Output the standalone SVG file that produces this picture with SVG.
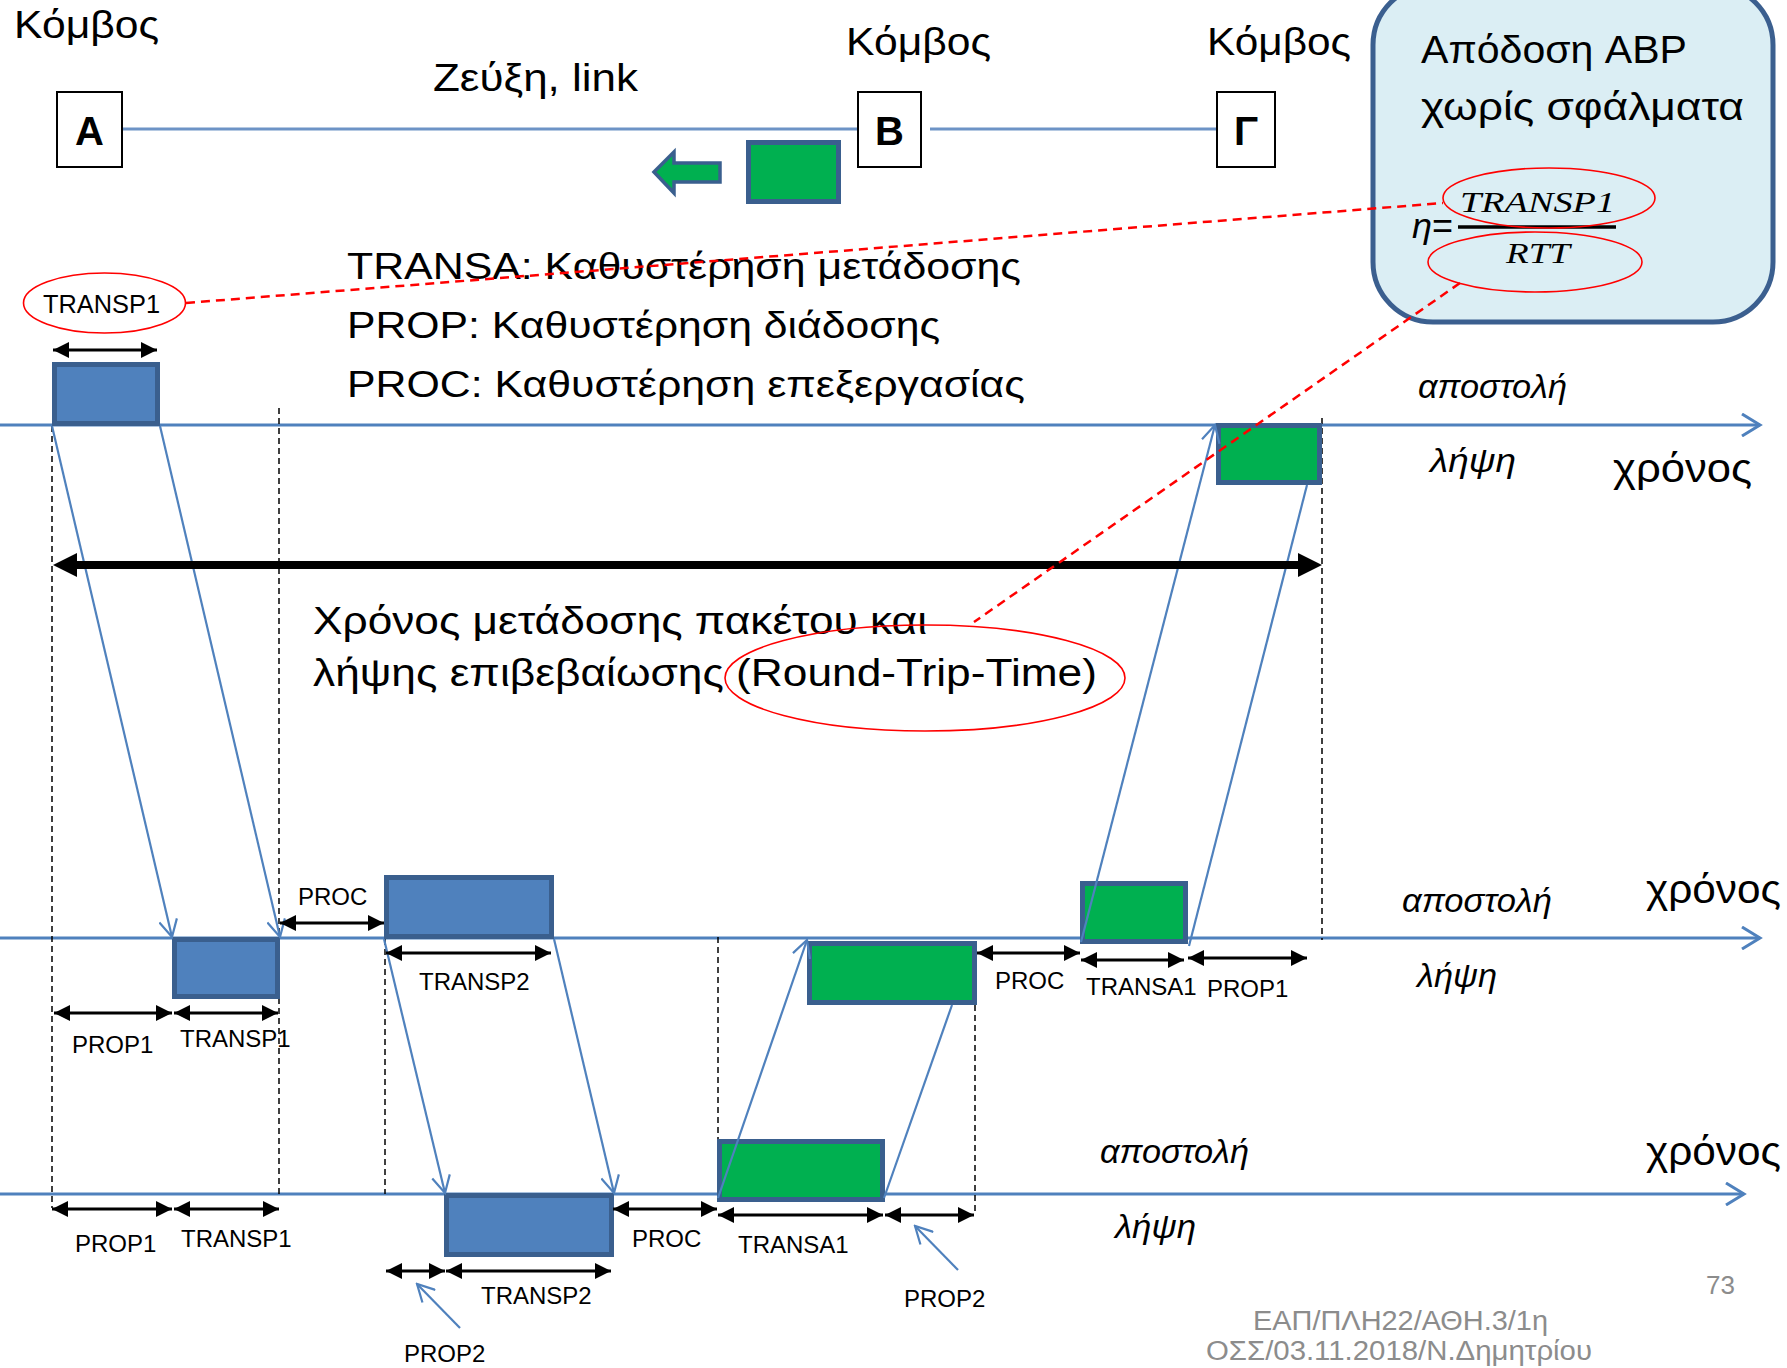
<svg xmlns="http://www.w3.org/2000/svg" width="1787" height="1368" viewBox="0 0 1787 1368">
<style>
.t{font-family:"Liberation Sans",Arial,"DejaVu Sans",sans-serif;fill:#000}
.it{font-style:italic}
.ser{font-family:"Liberation Serif","Times New Roman",serif;font-style:italic;fill:#000}
.lbl{font-size:24px}
.ax{stroke:#4f81bd;stroke-width:3;fill:none}
.diag{stroke:#4f81bd;stroke-width:2.2;fill:none}
.dash{stroke:#000;stroke-width:1.5;stroke-dasharray:6 4;fill:none}
.dim{stroke:#000;stroke-width:3;fill:none}
.bbox{fill:#4f81bd;stroke:#3a5f8e;stroke-width:5}
.gbox{fill:#00b050;stroke:#3a5f8e;stroke-width:5}
.node{fill:#fff;stroke:#000;stroke-width:2}
.red{stroke:#ff0000;fill:none;stroke-width:1.6}
.rdash{stroke:#ff0000;stroke-width:2.5;stroke-dasharray:9 6;fill:none}
.grey{fill:#8c8c8c}
</style>
<defs>
<marker id="dimHead" viewBox="0 0 16 16" refX="16" refY="8" markerWidth="16" markerHeight="16" markerUnits="userSpaceOnUse" orient="auto-start-reverse">
<path d="M0,0 L16,8 L0,16 Z" fill="#000"/>
</marker>
<marker id="openHead" viewBox="0 0 20 20" refX="18" refY="10" markerWidth="20" markerHeight="20" markerUnits="userSpaceOnUse" orient="auto">
<path d="M1,1 L18,10 L1,19" fill="none" stroke="#4f81bd" stroke-width="2.2"/>
</marker>
<marker id="axHead" viewBox="0 0 22 24" refX="19" refY="12" markerWidth="22" markerHeight="24" markerUnits="userSpaceOnUse" orient="auto">
<path d="M1,1 L19,12 L1,23" fill="none" stroke="#4f81bd" stroke-width="3"/>
</marker>
</defs>

<rect width="1787" height="1368" fill="#fff"/>

<!-- top network -->
<g id="links">
<line x1="123" y1="129" x2="857" y2="129" stroke="#6d93c6" stroke-width="3"/>
<line x1="930" y1="129" x2="1216" y2="129" stroke="#6d93c6" stroke-width="3"/>
</g>
<g id="node-A">
<rect class="node" x="57" y="92" width="65" height="75"/>
<text class="t" x="89.5" y="145" font-size="40" font-weight="bold" text-anchor="middle">A</text>
<text class="t" x="14" y="38" font-size="38" textLength="145" lengthAdjust="spacingAndGlyphs">Κόμβος</text>
</g>
<g id="node-B">
<rect class="node" x="858" y="92" width="63" height="75"/>
<text class="t" x="889.5" y="145" font-size="40" font-weight="bold" text-anchor="middle">B</text>
<text class="t" x="846" y="55" font-size="38" textLength="145" lengthAdjust="spacingAndGlyphs">Κόμβος</text>
</g>
<g id="node-G">
<rect class="node" x="1217" y="92" width="58" height="75"/>
<text class="t" x="1246" y="145" font-size="40" font-weight="bold" text-anchor="middle">Γ</text>
<text class="t" x="1207" y="55" font-size="38" textLength="144" lengthAdjust="spacingAndGlyphs">Κόμβος</text>
</g>
<text class="t" x="433" y="91" font-size="38" textLength="205" lengthAdjust="spacingAndGlyphs">Ζεύξη, link</text>
<g id="packet">
<rect class="gbox" x="748.5" y="142.5" width="90" height="59"/>
<path d="M654,172 L674,152 L674,163 L720,163 L720,182 L674,182 L674,193 Z" fill="#00b050" stroke="#3a5f8e" stroke-width="3.5" stroke-linejoin="miter"/>
</g>

<!-- efficiency box -->
<g id="efficiency">
<rect x="1373" y="-15" width="400" height="337" rx="60" ry="60" fill="#dbeef4" stroke="#3b5f8f" stroke-width="5"/>
<text class="t" x="1421" y="63" font-size="39" textLength="266" lengthAdjust="spacingAndGlyphs">Απόδοση ABP</text>
<text class="t" x="1421" y="120" font-size="39" textLength="323" lengthAdjust="spacingAndGlyphs">χωρίς σφάλματα</text>
<text class="t" x="1412" y="238" font-size="36"><tspan class="it">η</tspan>=</text>
<line x1="1458" y1="227" x2="1616" y2="227" stroke="#000" stroke-width="3.5"/>
<text class="ser" x="1460" y="212" font-size="30" textLength="155" lengthAdjust="spacingAndGlyphs">TRANSP1</text>
<text class="ser" x="1506" y="263" font-size="30" textLength="64" lengthAdjust="spacingAndGlyphs">RTT</text>
<ellipse class="red" cx="1549" cy="198" rx="106" ry="30"/>
<ellipse class="red" cx="1535" cy="262" rx="107" ry="30"/>
</g>

<!-- legend -->
<g id="legend">
<text class="t" x="347" y="279" font-size="36" textLength="674" lengthAdjust="spacingAndGlyphs">TRANSA: Καθυστέρηση μετάδοσης</text>
<text class="t" x="347" y="338" font-size="36" textLength="593" lengthAdjust="spacingAndGlyphs">PROP: Καθυστέρηση διάδοσης</text>
<text class="t" x="347" y="397" font-size="36" textLength="678" lengthAdjust="spacingAndGlyphs">PROC: Καθυστέρηση επεξεργασίας</text>
</g>

<!-- time axes -->
<g id="axes">
<line class="ax" x1="0" y1="425" x2="1760" y2="425" marker-end="url(#axHead)"/>
<line class="ax" x1="0" y1="938" x2="1760" y2="938" marker-end="url(#axHead)"/>
<line class="ax" x1="0" y1="1194" x2="1744" y2="1194" marker-end="url(#axHead)"/>
</g>

<!-- dashed guides -->
<g id="guides">
<line class="dash" x1="52" y1="426" x2="52" y2="1208"/>
<line class="dash" x1="279" y1="408" x2="279" y2="1194"/>
<line class="dash" x1="385" y1="939" x2="385" y2="1194"/>
<line class="dash" x1="718" y1="937" x2="718" y2="1195"/>
<line class="dash" x1="975" y1="1005" x2="975" y2="1212"/>
<line class="dash" x1="1322" y1="418" x2="1322" y2="940"/>
</g>

<!-- packets -->
<g id="frame-top-A"><rect class="bbox" x="54.5" y="364.5" width="103" height="59"/></g>
<g id="frame-mid-B-rx"><rect class="bbox" x="174.5" y="939.5" width="103" height="57"/></g>
<g id="frame-mid-B-tx"><rect class="bbox" x="386.5" y="877.5" width="165" height="59"/></g>
<g id="frame-bot-G-rx"><rect class="bbox" x="446.5" y="1195.5" width="165" height="59"/></g>
<g id="ack-bot-G-tx"><rect class="gbox" x="719.5" y="1141.5" width="163" height="58"/></g>
<g id="ack-mid-B-rx"><rect class="gbox" x="809.5" y="943.5" width="165" height="59"/></g>
<g id="ack-mid-B-tx"><rect class="gbox" x="1082.5" y="883.5" width="103" height="58"/></g>
<g id="ack-top-A-rx"><rect class="gbox" x="1218.5" y="425.5" width="101" height="57"/></g>

<!-- connectors -->
<g id="connectors">
<line class="diag" x1="52" y1="426" x2="172" y2="937" marker-end="url(#openHead)"/>
<line class="diag" x1="160" y1="426" x2="280" y2="937" marker-end="url(#openHead)"/>
<line class="diag" x1="384" y1="939" x2="445" y2="1193" marker-end="url(#openHead)"/>
<line class="diag" x1="554" y1="939" x2="614" y2="1193" marker-end="url(#openHead)"/>
<line class="diag" x1="718" y1="1198" x2="807" y2="940" marker-end="url(#openHead)"/>
<line class="diag" x1="884" y1="1198" x2="952" y2="1005"/>
<line class="diag" x1="1081" y1="942" x2="1215" y2="425" marker-end="url(#openHead)"/>
<line class="diag" x1="1189" y1="946" x2="1307" y2="485"/>
<line class="diag" x1="460" y1="1328" x2="417" y2="1284" marker-end="url(#openHead)"/>
<line class="diag" x1="958" y1="1270" x2="915" y2="1226" marker-end="url(#openHead)"/>
</g>

<!-- dimension arrows -->
<g id="dimensions">
<line class="dim" x1="53" y1="350" x2="157" y2="350" marker-start="url(#dimHead)" marker-end="url(#dimHead)"/>
<line class="dim" x1="54" y1="1013" x2="172" y2="1013" marker-start="url(#dimHead)" marker-end="url(#dimHead)"/>
<line class="dim" x1="174" y1="1013" x2="278" y2="1013" marker-start="url(#dimHead)" marker-end="url(#dimHead)"/>
<line class="dim" x1="280" y1="923" x2="384" y2="923" marker-start="url(#dimHead)" marker-end="url(#dimHead)"/>
<line class="dim" x1="386" y1="953" x2="551" y2="953" marker-start="url(#dimHead)" marker-end="url(#dimHead)"/>
<line class="dim" x1="977" y1="953" x2="1080" y2="953" marker-start="url(#dimHead)" marker-end="url(#dimHead)"/>
<line class="dim" x1="1081" y1="960" x2="1184" y2="960" marker-start="url(#dimHead)" marker-end="url(#dimHead)"/>
<line class="dim" x1="1188" y1="958" x2="1307" y2="958" marker-start="url(#dimHead)" marker-end="url(#dimHead)"/>
<line class="dim" x1="52" y1="1209" x2="172" y2="1209" marker-start="url(#dimHead)" marker-end="url(#dimHead)"/>
<line class="dim" x1="174" y1="1209" x2="279" y2="1209" marker-start="url(#dimHead)" marker-end="url(#dimHead)"/>
<line class="dim" x1="386" y1="1271" x2="445" y2="1271" marker-start="url(#dimHead)" marker-end="url(#dimHead)"/>
<line class="dim" x1="446" y1="1271" x2="611" y2="1271" marker-start="url(#dimHead)" marker-end="url(#dimHead)"/>
<line class="dim" x1="613" y1="1209" x2="717" y2="1209" marker-start="url(#dimHead)" marker-end="url(#dimHead)"/>
<line class="dim" x1="718" y1="1215" x2="883" y2="1215" marker-start="url(#dimHead)" marker-end="url(#dimHead)"/>
<line class="dim" x1="885" y1="1215" x2="974" y2="1215" marker-start="url(#dimHead)" marker-end="url(#dimHead)"/>
<!-- RTT arrow -->
<line x1="72" y1="565" x2="1302" y2="565" stroke="#000" stroke-width="8"/>
<path d="M53,565 L77,553 L77,577 Z" fill="#000"/>
<path d="M1322,565 L1298,553 L1298,577 Z" fill="#000"/>
</g>

<!-- labels -->
<g id="labels">
<text class="t lbl" x="72" y="1053">PROP1</text>
<text class="t lbl" x="180" y="1047">TRANSP1</text>
<text class="t lbl" x="298" y="905">PROC</text>
<text class="t lbl" x="419" y="990">TRANSP2</text>
<text class="t lbl" x="995" y="989">PROC</text>
<text class="t lbl" x="1086" y="995">TRANSA1</text>
<text class="t lbl" x="1207" y="997">PROP1</text>
<text class="t lbl" x="75" y="1252">PROP1</text>
<text class="t lbl" x="181" y="1247">TRANSP1</text>
<text class="t lbl" x="481" y="1304">TRANSP2</text>
<text class="t lbl" x="404" y="1362">PROP2</text>
<text class="t lbl" x="632" y="1247">PROC</text>
<text class="t lbl" x="738" y="1253">TRANSA1</text>
<text class="t lbl" x="904" y="1307">PROP2</text>

<text class="t it" x="1418" y="398" font-size="34" textLength="149" lengthAdjust="spacingAndGlyphs">αποστολή</text>
<text class="t it" x="1430" y="472" font-size="34" textLength="86" lengthAdjust="spacingAndGlyphs">λήψη</text>
<text class="t" x="1613" y="482" font-size="40" textLength="139" lengthAdjust="spacingAndGlyphs">χρόνος</text>
<text class="t it" x="1402" y="912" font-size="34" textLength="150" lengthAdjust="spacingAndGlyphs">αποστολή</text>
<text class="t it" x="1417" y="987" font-size="34" textLength="80" lengthAdjust="spacingAndGlyphs">λήψη</text>
<text class="t" x="1646" y="903" font-size="40" textLength="135" lengthAdjust="spacingAndGlyphs">χρόνος</text>
<text class="t it" x="1100" y="1163" font-size="34" textLength="149" lengthAdjust="spacingAndGlyphs">αποστολή</text>
<text class="t it" x="1115" y="1238" font-size="34" textLength="81" lengthAdjust="spacingAndGlyphs">λήψη</text>
<text class="t" x="1646" y="1165" font-size="40" textLength="135" lengthAdjust="spacingAndGlyphs">χρόνος</text>

<text class="t" x="313" y="634" font-size="38" textLength="614" lengthAdjust="spacingAndGlyphs">Χρόνος μετάδοσης πακέτου και</text>
<text class="t" x="313" y="686" font-size="38" textLength="784" lengthAdjust="spacingAndGlyphs">λήψης επιβεβαίωσης (Round-Trip-Time)</text>

<text class="t grey" x="1706" y="1294" font-size="26">73</text>
<text class="t grey" x="1253" y="1330" font-size="27" textLength="295" lengthAdjust="spacingAndGlyphs">ΕΑΠ/ΠΛΗ22/ΑΘΗ.3/1η</text>
<text class="t grey" x="1206" y="1360" font-size="27" textLength="386" lengthAdjust="spacingAndGlyphs">ΟΣΣ/03.11.2018/Ν.Δημητρίου</text>
</g>

<!-- red annotations -->
<g id="annotations">
<ellipse class="red" cx="104.5" cy="303" rx="81" ry="30"/>
<text class="t" x="43" y="313" font-size="25" textLength="117" lengthAdjust="spacingAndGlyphs">TRANSP1</text>
<ellipse class="red" cx="925" cy="678" rx="200" ry="53"/>
<line class="rdash" x1="186" y1="303" x2="1443" y2="203"/>
<line class="rdash" x1="1460" y1="283" x2="974" y2="622"/>
</g>
</svg>
